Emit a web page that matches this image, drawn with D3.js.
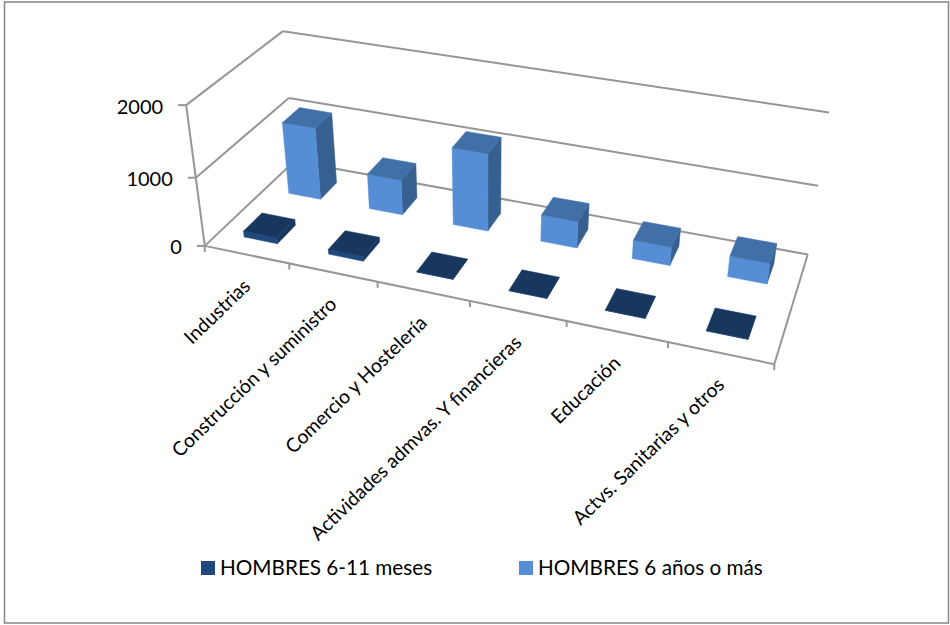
<!DOCTYPE html>
<html><head><meta charset="utf-8">
<script src="https://cdn.jsdelivr.net/npm/d3@7/dist/d3.min.js"></script>
<style>html,body{margin:0;padding:0;background:#fff}svg{display:block}text{font-family:Lato,Carlito,sans-serif;fill:#000}</style>
</head><body><svg id="c" width="950" height="625"></svg>
<script>
const categories=["Industrias","Construcción y suministro","Comercio y Hostelería","Actividades admvas. Y financieras","Educación","Actvs. Sanitarias y otros"];
const seriesNames=["HOMBRES 6-11 meses","HOMBRES 6 años o más"];
const hombres611=[90,70,5,5,5,5];
const hombres6mas=[1080,530,1140,390,270,300];
const yTickValues=[0,1000,2000];
const seriesColors=[{front:"#1F497D",top:"#17375E",side:"#17375E",key:"#1F497D"},{front:"#558ED5",top:"#4170A8",side:"#376090",key:"#558ED5"}];

// camera fit: plot-box corners (u,v,w in 0..1) -> screen
const fit=[[0,0,0,205,246],[1,0,0,774,365],[1,1,0,808,253],[0,1,0,294,162],[0,0,1,186,105],[0,1,1,283,31],[1,1,1,829,113],[0,0,.5,196,177],[0,1,.5,289,98],[1,1,.5,818,186]];
function solve(A,b){const n=b.length,M=A.map((r,i)=>[...r,b[i]]);
 for(let i=0;i<n;i++){let p=i;for(let k=i+1;k<n;k++)if(Math.abs(M[k][i])>Math.abs(M[p][i]))p=k;[M[i],M[p]]=[M[p],M[i]];
  for(let k=i+1;k<n;k++){const f=M[k][i]/M[i][i];for(let j=i;j<=n;j++)M[k][j]-=f*M[i][j];}}
 const x=Array(n).fill(0);for(let i=n-1;i>=0;i--){let s=M[i][n];for(let j=i+1;j<n;j++)s-=M[i][j]*x[j];x[i]=s/M[i][i];}return x;}
const rows=[],rhs=[];
fit.forEach(([u,v,w,x,y])=>{rows.push([u,v,w,1,0,0,0,0,-x*u,-x*v,-x*w]);rhs.push(x);rows.push([0,0,0,0,u,v,w,1,-y*u,-y*v,-y*w]);rhs.push(y);});
const N=d3.range(11).map(i=>d3.range(11).map(j=>d3.sum(rows,r=>r[i]*r[j])));
const Nb=d3.range(11).map(i=>d3.sum(rows,(r,k)=>r[i]*rhs[k]));
const m=solve(N,Nb);
const proj=(u,v,w)=>{const d=m[8]*u+m[9]*v+m[10]*w+1;return[(m[0]*u+m[1]*v+m[2]*w+m[3])/d,(m[4]*u+m[5]*v+m[6]*w+m[7])/d];};

const uScale=d3.scaleBand().domain(categories).range([0,1]).paddingInner(.6).paddingOuter(.3);
const vScale=d3.scaleBand().domain(seriesNames).range([0,1]).paddingInner(.6).paddingOuter(.3);
const wScale=d3.scaleLinear().domain([0,2000]).range([0,1]);
const line=d3.line();
const svg=d3.select("#c");
const GRID="#969696";
svg.append("rect").attr("x",4.5).attr("y",2).attr("width",944).attr("height",621).attr("fill","#fff").attr("stroke","#868686").attr("stroke-width",1.5);

const seg=(a,b)=>svg.append("path").attr("d",line([a,b])).attr("fill","none").attr("stroke",GRID).attr("stroke-width",2);
yTickValues.forEach(t=>{const w=wScale(t);
 seg(proj(0,0,w),proj(0,1,w));
 seg(proj(0,1,w),proj(1,1,w));
 const p=proj(0,0,w);
 seg([p[0]-8,p[1]],p);
 svg.append("text").attr("x",p[0]-23).attr("y",p[1]+8.5).attr("text-anchor","end").attr("font-size",20).text(d3.format("d")(t));
});
seg(proj(0,0,0),proj(0,0,1));
seg(proj(0,0,0),proj(1,0,0));
seg(proj(1,0,0),proj(1,1,0));
d3.range(0,7).forEach(i=>{const p=proj(i/6,0,0);seg(p,[p[0],p[1]+6]);});

function drawBar(cat,sName,val,col){
 const u0=uScale(cat),u1=u0+uScale.bandwidth(),v0=vScale(sName),v1=v0+vScale.bandwidth(),w=wScale(val);
 const face=(pts,fill)=>svg.append("path").attr("d",line(pts)+"Z").attr("fill",fill).attr("stroke",fill).attr("stroke-width",.5);
 face([proj(u1,v0,0),proj(u1,v1,0),proj(u1,v1,w),proj(u1,v0,w)],col.side);
 face([proj(u0,v0,0),proj(u1,v0,0),proj(u1,v0,w),proj(u0,v0,w)],col.front);
 face([proj(u0,v0,w),proj(u1,v0,w),proj(u1,v1,w),proj(u0,v1,w)],col.top);
}
[hombres6mas,hombres611].forEach((vals)=>{const si=vals===hombres611?0:1;
 categories.forEach((c,i)=>drawBar(c,seriesNames[si],vals[i],seriesColors[si]));});

categories.forEach(c=>{const p=proj(uScale(c)+uScale.bandwidth()/2,0,0);
 svg.append("text").attr("transform",`translate(${p[0]+5},${p[1]+33}) rotate(-44)`).attr("text-anchor","end").attr("font-size",19.4).text(c);});

[[201,220],[519,538]].forEach((x,i)=>{
 svg.append("rect").attr("x",x[0]).attr("y",561).attr("width",14).attr("height",14).attr("fill",seriesColors[i].key);
 svg.append("text").attr("x",x[1]).attr("y",575).attr("font-size",20.7).text(seriesNames[i]);
});
</script></body></html>
